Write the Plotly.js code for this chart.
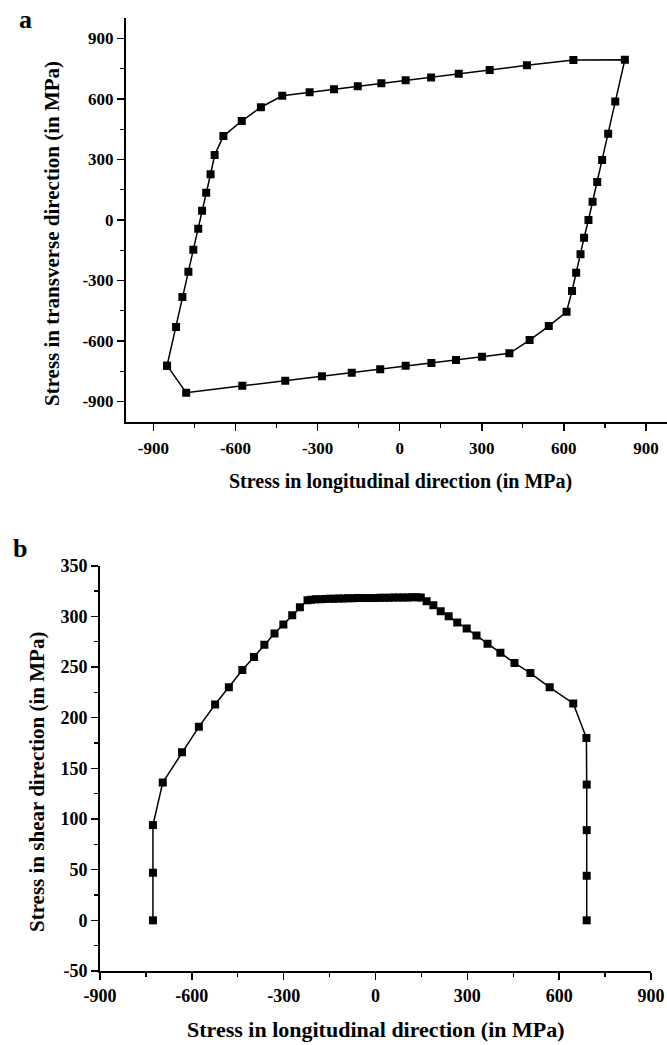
<!DOCTYPE html>
<html>
<head>
<meta charset="utf-8">
<script src="https://cdn.plot.ly/plotly-3.0.1.min.js"></script>
<style>
  html, body { margin: 0; padding: 0; background: #fff; }
  #chart { width: 667px; height: 1045px; }
</style>
</head>
<body>
<div id="chart"></div>
<script>
// Panel a: stress path in the longitudinal/transverse plane (MPa), closed loop
const loopLongitudinal = [-850, -817, -794, -772, -754, -736, -722, -707, -691, -676, -644, -577, -507, -429, -329, -240, -153, -67, 22, 115, 216, 329, 465, 635, 823,
  788, 762, 740, 722, 705, 690, 674, 661, 645, 630, 610, 545, 475, 401, 301, 206, 116, 22, -71, -175, -284, -418, -575, -780, -850];
const loopTransverse = [-722, -530, -382, -256, -147, -44, 46, 135, 227, 322, 416, 491, 559, 616, 633, 648, 663, 678, 693, 707, 725, 744, 767, 793, 795,
  587, 428, 297, 188, 91, 0, -88, -170, -261, -352, -455, -526, -595, -661, -678, -694, -709, -722, -740, -757, -775, -797, -822, -856, -722];

// Panel b: stress path in the longitudinal/shear plane (MPa)
const archLongitudinal = [-727, -727, -727, -695, -632, -577, -524, -479, -435, -397, -363, -330, -301, -272, -247, -222,
  -210, -195, -180, -165, -150, -135, -120, -105, -90, -75, -60, -45, -30, -15, 0, 15, 30, 45, 60, 75, 90, 105, 120, 135, 148,
  167, 189, 213, 239, 267, 298, 330, 366, 408, 454, 506, 569, 646, 689, 690, 690, 690, 690];
const archShear = [0, 47, 94, 136, 166, 191, 213, 230, 247, 260, 272, 283, 292, 301, 309, 316,
  316.5, 316.8, 317, 317.2, 317.4, 317.5, 317.6, 317.7, 317.8, 317.9, 318, 318, 318.1, 318.2, 318.2, 318.3, 318.4, 318.4, 318.5, 318.6, 318.6, 318.7, 318.8, 318.8, 318.6,
  315, 311, 305, 300, 294, 288, 281, 273, 264, 254, 244, 230, 214, 180, 134, 89, 44, 0];

// Tick positions and labels
const ticksA = [-900, -600, -300, 0, 300, 600, 900];
const tickTextA = ['-900', '-600', '-300', '0', '300', '600', '900'];
const ticksBx = [-900, -600, -300, 0, 300, 600, 900];
const tickTextBx = ['-900', '-600', '-300', '0', '300', '600', '900'];
const ticksBy = [-50, 0, 50, 100, 150, 200, 250, 300, 350];
const tickTextBy = ['-50', '0', '50', '100', '150', '200', '250', '300', '350'];

const W = 667, H = 1045;
const px = v => v / W;
const py = v => 1 - v / H;

const FONT = 'Liberation Serif, Times New Roman, serif';

function axisStyle(tickvals, ticktext, minorStep, fontSize, extra) {
  return Object.assign({
    showline: true, linecolor: '#000', linewidth: 2,
    showgrid: false, zeroline: false,
    ticks: 'outside', ticklen: 7, tickwidth: 1.6, tickcolor: '#000',
    tickmode: 'array', tickvals: tickvals, ticktext: ticktext,
    tickfont: { family: FONT, size: fontSize, color: '#000', weight: 'bold' },
    minor: { dtick: minorStep, tick0: 0, ticks: 'outside', ticklen: 4, tickwidth: 1.4, tickcolor: '#000', showgrid: false },
    fixedrange: true
  }, extra);
}

const markerStyle = { symbol: 'square', size: 8, color: '#000', line: { width: 0 } };
const lineStyle = { color: '#000', width: 1.5 };

const traces = [
  { x: loopLongitudinal, y: loopTransverse, xaxis: 'x', yaxis: 'y', type: 'scatter', mode: 'lines+markers',
    marker: markerStyle, line: lineStyle, hoverinfo: 'x+y' },
  { x: archLongitudinal, y: archShear, xaxis: 'x2', yaxis: 'y2', type: 'scatter', mode: 'lines+markers',
    marker: markerStyle, line: lineStyle, hoverinfo: 'x+y' }
];

function label(text, x, y, size, angle) {
  return { text: text, xref: 'paper', yref: 'paper', x: px(x), y: py(y), xanchor: 'center', yanchor: 'middle',
    showarrow: false, textangle: angle || 0, font: { family: FONT, size: size, color: '#000', weight: 'bold' } };
}

const layout = {
  width: W, height: H,
  margin: { l: 0, r: 0, t: 0, b: 0 },
  paper_bgcolor: '#fff', plot_bgcolor: '#fff',
  showlegend: false,
  xaxis: axisStyle(ticksA, tickTextA, 150, 17, { domain: [px(126), 1], range: [-1000, 977], anchor: 'y', ticklabelstandoff: 3 }),
  yaxis: axisStyle(ticksA, tickTextA, 150, 17, { domain: [py(421.7), py(18.3)], range: [-1000, 1000], anchor: 'x' }),
  xaxis2: axisStyle(ticksBx, tickTextBx, 150, 18, { domain: [px(100), px(651)], range: [-900, 900], anchor: 'y2' }),
  yaxis2: axisStyle(ticksBy, tickTextBy, 25, 18, { domain: [py(971), py(565.7)], range: [-50, 350], anchor: 'x2' }),
  annotations: [
    label('a', 25, 20, 26),
    label('b', 20, 548, 26),
    label('Stress in longitudinal direction (in MPa)', 400, 482, 20),
    label('Stress in transverse direction (in MPa)', 52, 234, 21, -90),
    label('Stress in longitudinal direction (in MPa)', 376, 1029, 22),
    label('Stress in shear direction (in MPa)', 37, 782, 21, -90)
  ]
};

Plotly.newPlot('chart', traces, layout, { displayModeBar: false, staticPlot: true });
</script>
</body>
</html>
